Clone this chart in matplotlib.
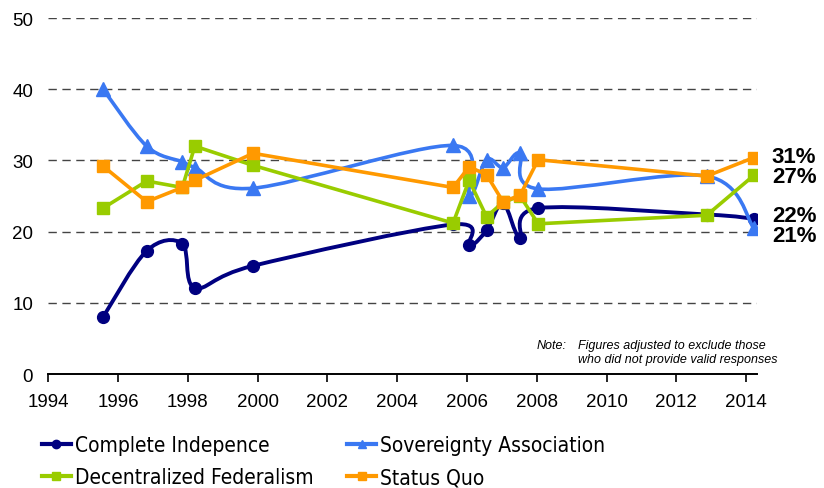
import numpy as np
import matplotlib
matplotlib.use("Agg")
import matplotlib.pyplot as plt
from matplotlib import font_manager
from matplotlib.path import Path
from matplotlib.patches import PathPatch
from matplotlib.lines import Line2D

plt.rcParams['font.family'] = ['Liberation Sans', 'DejaVu Sans']

# survey dates (fractional years) and shares in percent
years = [1995.57, 1996.82, 1997.84, 1998.20, 1999.87, 2005.60, 2006.06,
         2006.56, 2007.03, 2007.52, 2008.04, 2012.87, 2014.22]
independence = [8, 17.3, 18.3, 12.1, 15.2, 21, 18.1, 20.2, 24, 19.1, 23.3, 22.4, 21.8]
sovereignty = [40, 32, 29.8, 29, 26.1, 32.1, 25, 30.1, 29, 31, 26, 27.8, 20.5]
federalism = [23.3, 27.1, 26.2, 32, 29.3, 21.2, 27.2, 22.1, 24.1, 25, 21.1, 22.3, 27.9]
status_quo = [29.2, 24.2, 26.2, 27.2, 31, 26.2, 29.1, 28, 24.2, 25.1, 30.1, 27.8, 30.4]

names = ["Complete Indepence", "Sovereignty Association",
         "Decentralized Federalism", "Status Quo"]
colors = ["#000080", "#3A78F2", "#99CC00", "#FF9900"]
end_labels = ["22%", "21%", "27%", "31%"]

# condensed font for the legend if one is installed
legend_prop = {'family': 'Liberation Sans', 'size': 14}
cond = font_manager.FontProperties(family='DejaVu Sans', stretch='condensed')
if 'ondensed' in font_manager.findfont(cond):
    legend_prop = {'family': 'DejaVu Sans', 'stretch': 'condensed', 'size': 15}
col_space = 1.6


def smooth_path(xs, ys):
    # Excel-like smoothed line: cubic Bezier through the points
    pts = np.column_stack([xs, ys]).astype(float)
    n = len(pts)
    verts = [pts[0]]
    codes = [Path.MOVETO]
    for i in range(n - 1):
        p0 = pts[i - 1] if i > 0 else pts[i]
        p1 = pts[i]
        p2 = pts[i + 1]
        p3 = pts[i + 2] if i + 2 < n else pts[i + 1]
        verts += [p1 + (p2 - p0) / 6, p2 - (p3 - p1) / 6, p2]
        codes += [Path.CURVE4] * 3
    return Path(verts, codes)


fig = plt.figure(figsize=(8.24, 4.89), dpi=100)
ax = fig.add_axes([0.0586, 0.2331, 0.8601, 0.7280])

# smoothed series
ax.add_patch(PathPatch(smooth_path(years, independence), fill=False,
                       edgecolor=colors[0], lw=2.8, zorder=3))
ax.plot(years, independence, ls='none', marker='o', ms=8.5, color=colors[0], zorder=3)
ax.add_patch(PathPatch(smooth_path(years, sovereignty), fill=False,
                       edgecolor=colors[1], lw=2.6, zorder=4))
ax.plot(years, sovereignty, ls='none', marker='^', ms=9.5, color=colors[1], zorder=4)
# straight series
ax.plot(years, federalism, '-', marker='s', ms=8.5, lw=2.6, color=colors[2], zorder=5)
ax.plot(years, status_quo, '-', marker='s', ms=8.5, lw=2.6, color=colors[3], zorder=6)

ax.set_xlim(1994, 2014.31)
ax.set_ylim(0, 50)
ax.set_xticks(range(1994, 2015, 2))
ax.set_yticks(range(0, 51, 10))
ax.tick_params(axis='x', direction='out', length=6, width=1.2, labelsize=13.5, pad=8)
ax.tick_params(axis='y', length=0, labelsize=13.5, pad=11)
for s in ['left', 'right', 'top']:
    ax.spines[s].set_visible(False)
ax.spines['bottom'].set_linewidth(1.4)
ax.yaxis.grid(True, color='#444444', ls=(0, (6, 4)), lw=1.0)
ax.set_axisbelow(True)

# end-point labels
last_vals = [independence[-1], sovereignty[-1], federalism[-1], status_quo[-1]]
offsets = [0.4, -1.1, -0.2, 0.2]
for lab, v, off in zip(end_labels, last_vals, offsets):
    ax.annotate(lab, xy=(2014.22, v + off), xytext=(13, 0), textcoords='offset points',
                va='center', ha='left', fontsize=16, fontweight='bold',
                annotation_clip=False)

ax.text(0.689, 0.081, "Note:", transform=ax.transAxes, fontsize=9,
        style='italic', ha='left', va='center')
ax.text(0.748, 0.081, "Figures adjusted to exclude those", transform=ax.transAxes,
        fontsize=9, style='italic', ha='left', va='center')
ax.text(0.748, 0.041, "who did not provide valid responses", transform=ax.transAxes,
        fontsize=9, style='italic', ha='left', va='center')

markers = ['o', '^', 's', 's']
handles = [Line2D([], [], color=c, marker=m, ms=6, lw=3) for c, m in zip(colors, markers)]
order = [0, 2, 1, 3]
fig.legend([handles[i] for i in order], [names[i] for i in order],
           loc='lower left', bbox_to_anchor=(0.028, -0.037), ncol=2,
           frameon=False, handlelength=1.4, handletextpad=0.2,
           columnspacing=col_space, labelspacing=0.6, prop=legend_prop)

fig.savefig("out.png", dpi=100)
